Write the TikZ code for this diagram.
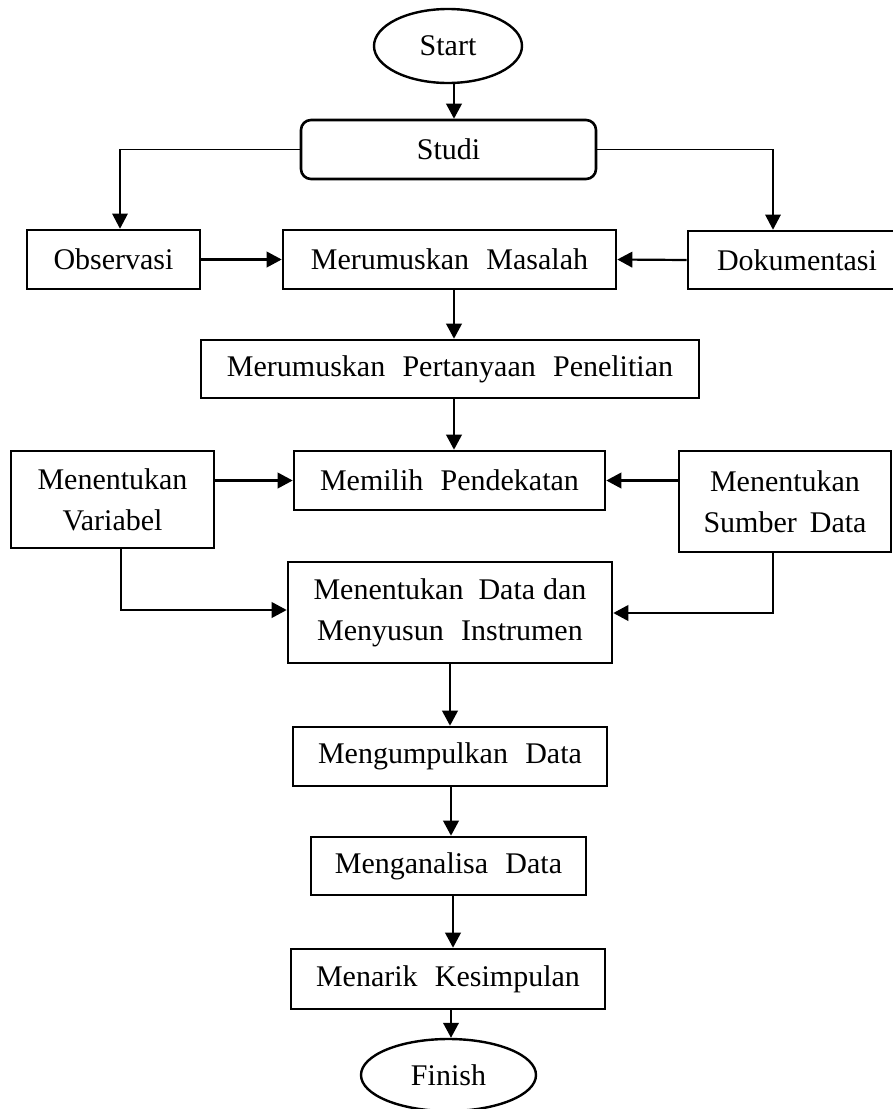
\documentclass[tikz,border=0pt]{standalone}
\usepackage{fontspec}
\setmainfont{Liberation Serif}[WordSpace=2.3]
\usetikzlibrary{arrows.meta,shapes.geometric}
\begin{document}
\begin{tikzpicture}[x=1pt,y=-1pt,
  every node/.style={font=\fontsize{30}{41}\selectfont, inner sep=0pt, align=center},
  box/.style={draw, line width=2.6pt, rectangle},
  oval/.style={draw, line width=2.4pt, ellipse},
  arr/.style={line width=2.2pt, -{Triangle[width=15.5pt,length=15pt]}},
  thinarr/.style={line width=1.3pt, -{Triangle[width=15.5pt,length=15pt]}},
  thinline/.style={line width=1.3pt}
]
\useasboundingbox (0,0) rectangle (893,1109);
\clip (0,0) rectangle (893,1109);
\node[oval, minimum width=148pt, minimum height=74pt] (start) at (448,46) {Start};
\node[box, rounded corners=10pt, minimum width=295pt, minimum height=59pt] (studi) at (448.5,149.5) {Studi};
\node[box, minimum width=173pt, minimum height=59pt] (obs) at (113.5,259.5) {Observasi};
\node[box, minimum width=333pt, minimum height=59pt] (mm) at (449.5,259.5) {Merumuskan Masalah};
\node[box, minimum width=218pt, minimum height=58pt] (dok) at (797,260) {Dokumentasi};
\node[box, minimum width=498pt, minimum height=58pt] (mpp) at (450,369) {Merumuskan Pertanyaan Penelitian};
\node[box, minimum width=203pt, minimum height=97pt] (var) at (112.5,499.5) {Menentukan\\Variabel};
\node[box, minimum width=311pt, minimum height=59pt] (mp) at (449.5,480.5) {Memilih Pendekatan};
\node[box, minimum width=212pt, minimum height=101pt] (sum) at (785,501.5) {Menentukan\\Sumber\hspace{13pt}Data};
\node[box, minimum width=324pt, minimum height=101pt] (md) at (450,612.5) {Menentukan\hspace{15pt}Data\hspace{8pt}dan\\Menyusun Instrumen};
\node[box, minimum width=314pt, minimum height=59pt] (mk) at (450,756.5) {Mengumpulkan Data};
\node[box, minimum width=275pt, minimum height=58pt] (ma) at (448.5,866) {Menganalisa Data};
\node[box, minimum width=314pt, minimum height=60pt] (mks) at (448,979) {Menarik Kesimpulan};
\node[oval, minimum width=175pt, minimum height=72pt] (fin) at (448.5,1075) {Finish};

\draw[arr] ([xshift=6pt]start.south) -- ([xshift=6pt]start.south |- studi.north);
\draw[thinarr] (studi.west) -| ([xshift=6.5pt]obs.north);
\draw[thinarr] (studi.east) -| ([xshift=-24pt]dok.north);
\draw[arr] (obs.east) -- (mm.west);
\draw[arr] (dok.west) -- (mm.east);
\draw[arr] ([xshift=4.5pt]mm.south) -- ([xshift=4.5pt]mm.south |- mpp.north);
\draw[arr] ([xshift=4pt]mpp.south) -- ([xshift=4pt]mpp.south |- mp.north);
\draw[arr] (var.east |- mp.west) -- (mp.west);
\draw[arr] (sum.west |- mp.east) -- (mp.east);
\coordinate (vtop) at ([xshift=8.5pt]var.south);
\coordinate (mdin) at ([yshift=2.5pt]md.west);
\coordinate (vturn) at (vtop |- mdin);
\draw[thinline] (vtop) -- (vturn);
\draw[arr] ([xshift=-0.6pt]vturn) -- (mdin);
\coordinate (stop) at ([xshift=-12pt]sum.south);
\coordinate (mdin2) at ([yshift=-0.5pt]md.east);
\coordinate (sturn) at (stop |- mdin2);
\draw[thinline] (stop) -- (sturn);
\draw[arr] ([xshift=0.6pt]sturn) -- (mdin2);
\draw[arr] (md.south) -- (mk.north);
\draw[arr] ([xshift=1pt]mk.south) -- ([xshift=1pt]mk.south |- ma.north);
\draw[arr] ([xshift=4.5pt]ma.south) -- ([xshift=4.5pt]ma.south |- mks.north);
\draw[arr] ([xshift=3pt]mks.south) -- ([xshift=3pt]mks.south |- fin.north);
\end{tikzpicture}
\end{document}
